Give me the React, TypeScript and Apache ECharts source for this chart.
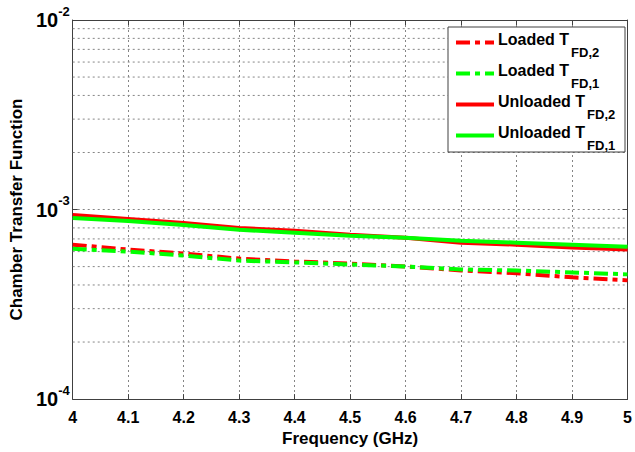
import React, { useEffect, useRef } from "react";
import * as echarts from "echarts";

const freq = [4.0, 4.1, 4.2, 4.3, 4.4, 4.5, 4.6, 4.7, 4.8, 4.9, 5.0];
const loadedTFD2 = [6.53e-4, 6.15e-4, 5.86e-4, 5.51e-4, 5.32e-4, 5.19e-4, 5.01e-4, 4.77e-4, 4.61e-4, 4.39e-4, 4.23e-4];
const loadedTFD1 = [6.22e-4, 6.0e-4, 5.72e-4, 5.38e-4, 5.26e-4, 5.13e-4, 5.01e-4, 4.83e-4, 4.77e-4, 4.66e-4, 4.55e-4];
const unloadedTFD2 = [9.36e-4, 8.92e-4, 8.5e-4, 8.0e-4, 7.72e-4, 7.36e-4, 7.1e-4, 6.69e-4, 6.53e-4, 6.3e-4, 6.15e-4];
const unloadedTFD1 = [9.03e-4, 8.71e-4, 8.3e-4, 7.82e-4, 7.54e-4, 7.27e-4, 7.1e-4, 6.85e-4, 6.69e-4, 6.53e-4, 6.37e-4];
const minorY = [2e-4, 3e-4, 4e-4, 5e-4, 6e-4, 7e-4, 8e-4, 9e-4, 2e-3, 3e-3, 4e-3, 5e-3, 6e-3, 7e-3, 8e-3, 9e-3];

const legendItems = [
  { main: "Loaded T", sub: "FD,2", color: "#ff0000", dashed: true },
  { main: "Loaded T", sub: "FD,1", color: "#00ff00", dashed: true },
  { main: "Unloaded T", sub: "FD,2", color: "#ff0000", dashed: false },
  { main: "Unloaded T", sub: "FD,1", color: "#00ff00", dashed: false },
];

const FONT = "'Liberation Sans', Arial, Helvetica, sans-serif";
const GRID_COLOR = "#858585";
const AXIS_COLOR = "#404040";
const DASHDOT = [14, 5, 5, 5];

function measure(text: string, font: string): number {
  const c = document.createElement("canvas");
  const ctx = c.getContext("2d");
  if (!ctx) return text.length * 8;
  ctx.font = font;
  return ctx.measureText(text).width;
}

export default function App() {
  const ref = useRef<HTMLDivElement>(null);
  useEffect(() => {
    if (!ref.current) return;
    const chart = echarts.init(ref.current, undefined, { renderer: "svg" });
    const pairs = (ys: number[]) => freq.map((f, i) => [f, ys[i]]);
    const gridLine = { show: true, lineStyle: { color: GRID_COLOR, type: [2, 3], width: 1 } };
    const xMin = freq[0];
    const xMax = freq[freq.length - 1];

    const legendGraphics: any[] = [
      {
        type: "rect",
        shape: { x: 448, y: 27, width: 177, height: 125 },
        style: { fill: "#ffffff", stroke: AXIS_COLOR, lineWidth: 1 },
        z: 100,
      },
    ];
    legendItems.forEach((it, i) => {
      const ly = 42.5 + i * 31;
      const mainFont = `bold 16px ${FONT}`;
      const w = measure(it.main, mainFont);
      legendGraphics.push({
        type: "line",
        shape: { x1: 456, y1: ly, x2: 494, y2: ly },
        style: { stroke: it.color, lineWidth: 4, lineDash: it.dashed ? DASHDOT : null },
        z: 101,
      });
      legendGraphics.push({
        type: "text",
        x: 498,
        y: ly - 3,
        z: 101,
        style: { text: it.main, font: mainFont, fill: "#000", verticalAlign: "middle", align: "left" },
      });
      legendGraphics.push({
        type: "text",
        x: 498 + w + 2,
        y: ly + 10,
        z: 101,
        style: { text: it.sub, font: `bold 13px ${FONT}`, fill: "#000", verticalAlign: "middle", align: "left" },
      });
    });

    const lineSeries = (name: string, data: number[], color: string, dashed: boolean, z: number) => ({
      type: "line",
      name,
      data: pairs(data),
      showSymbol: false,
      symbol: "none",
      z,
      lineStyle: { color, width: 4, type: dashed ? DASHDOT : "solid", cap: "butt" },
      itemStyle: { color },
    });

    const minorGridSeries = minorY.map((v, i) => ({
      type: "line",
      name: `minor-grid-${i}`,
      data: [
        [xMin, v],
        [xMax, v],
      ],
      symbol: "none",
      showSymbol: false,
      silent: true,
      z: 1,
      lineStyle: { color: GRID_COLOR, type: [2, 3], width: 1 },
      emphasis: { disabled: true },
    }));

    chart.setOption({
      animation: false,
      backgroundColor: "#ffffff",
      grid: { left: 62, right: 5, top: 20, bottom: 49, show: false },
      xAxis: [
        {
          type: "value",
          min: 4,
          max: 5,
          interval: 0.1,
          position: "bottom",
          axisLine: { show: true, lineStyle: { color: AXIS_COLOR, width: 1 } },
          axisTick: { show: true, inside: true, length: 5, lineStyle: { color: AXIS_COLOR } },
          axisLabel: {
            color: "#000",
            fontFamily: FONT,
            fontSize: 16,
            fontWeight: "bold",
            margin: 10,
            showMinLabel: true,
            showMaxLabel: true,
          },
          splitLine: gridLine,
          name: "Frequency (GHz)",
          nameLocation: "middle",
          nameGap: 25,
          nameTextStyle: { color: "#000", fontFamily: FONT, fontSize: 17, fontWeight: "bold", verticalAlign: "top" },
        },
        {
          type: "value",
          min: 4,
          max: 5,
          interval: 0.1,
          position: "top",
          axisLine: { show: true, lineStyle: { color: AXIS_COLOR, width: 1 } },
          axisTick: { show: true, inside: true, length: 5, lineStyle: { color: AXIS_COLOR } },
          axisLabel: { show: false },
          splitLine: { show: false },
        },
      ],
      yAxis: [
        {
          type: "log",
          logBase: 10,
          min: 1e-4,
          max: 1e-2,
          position: "left",
          axisLine: { show: true, lineStyle: { color: AXIS_COLOR, width: 1 } },
          axisTick: { show: true, inside: true, length: 5, lineStyle: { color: AXIS_COLOR } },
          axisLabel: {
            margin: 3,
            showMinLabel: true,
            showMaxLabel: true,
            formatter: (v: number) => `{b|10}{s|${Math.round(Math.log10(v))}}`,
            rich: {
              b: { fontFamily: FONT, fontSize: 20, fontWeight: "bold", color: "#000" },
              s: { fontFamily: FONT, fontSize: 13, fontWeight: "bold", color: "#000", padding: [0, 0, 18, 0] },
            },
          },
          splitLine: gridLine,
          name: "Chamber Transfer Function",
          nameLocation: "middle",
          nameGap: 41,
          nameTextStyle: { color: "#000", fontFamily: FONT, fontSize: 17, fontWeight: "bold" },
        },
        {
          type: "log",
          logBase: 10,
          min: 1e-4,
          max: 1e-2,
          position: "right",
          axisLine: { show: true, lineStyle: { color: AXIS_COLOR, width: 1 } },
          axisTick: { show: true, inside: true, length: 5, lineStyle: { color: AXIS_COLOR } },
          axisLabel: { show: false },
          splitLine: { show: false },
        },
      ],
      graphic: legendGraphics,
      series: [
        ...minorGridSeries,
        lineSeries("Loaded TFD,2", loadedTFD2, "#ff0000", true, 3),
        lineSeries("Loaded TFD,1", loadedTFD1, "#00ff00", true, 4),
        lineSeries("Unloaded TFD,2", unloadedTFD2, "#ff0000", false, 5),
        lineSeries("Unloaded TFD,1", unloadedTFD1, "#00ff00", false, 6),
      ],
    });
    return () => chart.dispose();
  }, []);
  return <div ref={ref} style={{ position: "fixed", left: 0, top: 0, width: 635, height: 452 }} />;
}
